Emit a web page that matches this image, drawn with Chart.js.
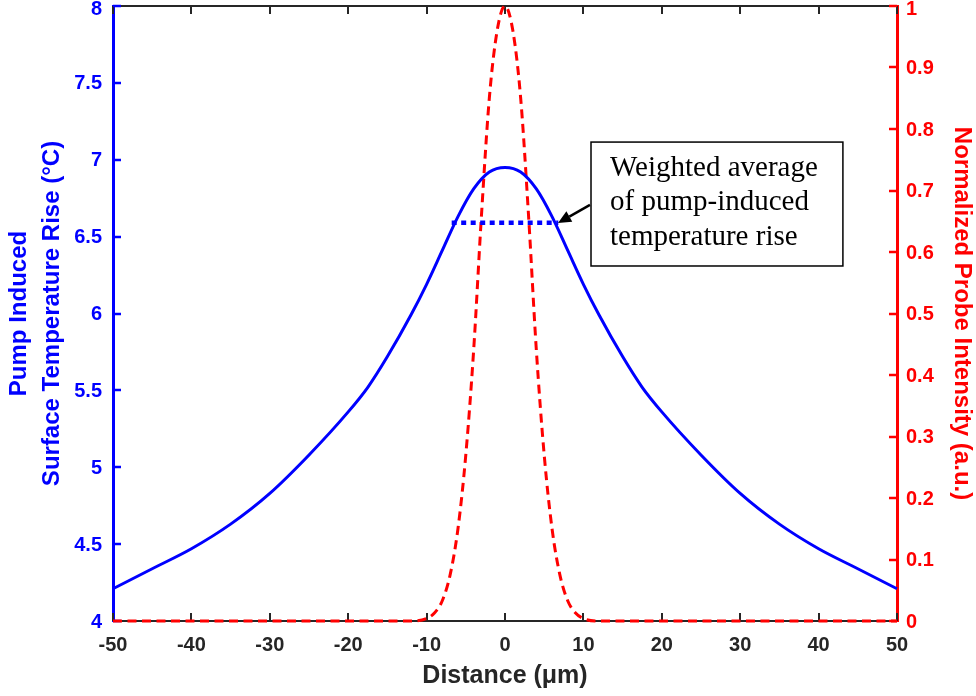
<!DOCTYPE html>
<html>
<head>
<meta charset="utf-8">
<script src="https://cdn.jsdelivr.net/npm/chart.js@4.4.1/dist/chart.umd.min.js"></script>
<style>
  html, body { margin: 0; padding: 0; background: #ffffff; }
  #wrap { width: 976px; height: 696px; position: relative; }
</style>
</head>
<body>
<div id="wrap"><canvas id="c"></canvas></div>
<script>
// ---- data ----
const distanceT = [-50,-45,-40,-35,-30,-25,-20,-17.5,-15,-12,-10,-8,-6,-4,-2,0,2,4,6,8,10,12,15,17.5,20,25,30,35,40,45,50];
const tempRise  = [4.21,4.34,4.47,4.63,4.83,5.08,5.36,5.52,5.72,5.99,6.19,6.41,6.63,6.81,6.92,6.95,6.92,6.81,6.63,6.41,6.19,5.99,5.72,5.52,5.36,5.08,4.83,4.63,4.47,4.34,4.21];

const distanceP = [-50,-12,-10,-9,-8,-7,-6,-5,-4,-3,-2,-1,0,1,2,3,4,5,6,7,8,9,10,12,50];
const probe     = [0,0,0.004,0.013,0.033,0.075,0.15,0.27,0.44,0.66,0.85,0.96,1,0.96,0.85,0.66,0.44,0.27,0.15,0.075,0.033,0.013,0.004,0,0];

const avgX = [-6.8, 6.8];
const avgT = [6.59, 6.59];

const xTicks = [-50,-40,-30,-20,-10,0,10,20,30,40,50];
const leftTicks = [4,4.5,5,5.5,6,6.5,7,7.5,8];
const rightTicks = [0,0.1,0.2,0.3,0.4,0.5,0.6,0.7,0.8,0.9,1];

const xTitle = 'Distance (μm)';
const leftTitle = ['Pump Induced', 'Surface Temperature Rise (°C)'];
const rightTitle = 'Normalized Probe Intensity (a.u.)';
const noteLines = ['Weighted average', 'of pump-induced', 'temperature rise'];

// annotation placement in data units (box and arrow)
const noteBox = { x0: 10.97, x1: 43.1, yTop: 7.115, yBot: 6.309 };
const noteArrow = { fromX: 10.84, fromY: 6.706, toX: 6.76, toY: 6.589 };

const BLUE = '#0000ff', RED = '#ff0000', DARK = '#262626';
const SANS = '"Liberation Sans", Arial, Helvetica, sans-serif';
const SERIF = '"Liberation Serif", "Times New Roman", serif';
const TICK_FONT = 'bold 20px ' + SANS;

const toXY = (xs, ys) => xs.map((x, i) => ({ x: x, y: ys[i] }));
const fmt = v => String(Math.round(v * 1000) / 1000);

const decoPlugin = {
  id: 'deco',
  beforeDatasetsDraw(chart) {
    const ctx = chart.ctx;
    const a = chart.chartArea;
    const xs = chart.scales.x, yl = chart.scales.y, yr = chart.scales.y2;
    const tl = 8;
    ctx.save();
    ctx.strokeStyle = DARK; ctx.lineWidth = 2;
    ctx.beginPath(); ctx.moveTo(a.left, a.top); ctx.lineTo(a.right, a.top); ctx.stroke();
    xTicks.forEach(v => {
      const px = Math.round(xs.getPixelForValue(v));
      ctx.beginPath();
      ctx.moveTo(px, a.bottom); ctx.lineTo(px, a.bottom - tl);
      ctx.moveTo(px, a.top); ctx.lineTo(px, a.top + tl);
      ctx.stroke();
    });
    ctx.strokeStyle = BLUE; ctx.lineWidth = 2.5;
    leftTicks.forEach(v => {
      const py = Math.round(yl.getPixelForValue(v));
      ctx.beginPath(); ctx.moveTo(a.left, py); ctx.lineTo(a.left + tl, py); ctx.stroke();
    });
    ctx.strokeStyle = RED;
    rightTicks.forEach(v => {
      const py = Math.round(yr.getPixelForValue(v));
      ctx.beginPath(); ctx.moveTo(a.right, py); ctx.lineTo(a.right - tl, py); ctx.stroke();
    });
    // y tick labels (kept inside the canvas at the top)
    ctx.font = TICK_FONT; ctx.textBaseline = 'middle';
    ctx.fillStyle = BLUE; ctx.textAlign = 'right';
    leftTicks.forEach(v => {
      const py = Math.max(yl.getPixelForValue(v) + 1, 9);
      ctx.fillText(fmt(v), a.left - 11, py);
    });
    ctx.fillStyle = RED; ctx.textAlign = 'left';
    rightTicks.forEach(v => {
      const py = Math.max(yr.getPixelForValue(v) + 1, 9);
      ctx.fillText(fmt(v), a.right + 9, py);
    });
    ctx.restore();
  },
  afterDatasetsDraw(chart) {
    const ctx = chart.ctx;
    const xs = chart.scales.x, yl = chart.scales.y;
    ctx.save();
    const bx0 = xs.getPixelForValue(noteBox.x0), bx1 = xs.getPixelForValue(noteBox.x1);
    const by0 = yl.getPixelForValue(noteBox.yTop), by1 = yl.getPixelForValue(noteBox.yBot);
    ctx.fillStyle = '#ffffff';
    ctx.fillRect(bx0, by0, bx1 - bx0, by1 - by0);
    ctx.strokeStyle = '#000000'; ctx.lineWidth = 1.5;
    ctx.strokeRect(bx0, by0, bx1 - bx0, by1 - by0);
    ctx.fillStyle = '#000000';
    ctx.font = '29px ' + SERIF;
    ctx.textAlign = 'left'; ctx.textBaseline = 'middle';
    const h = by1 - by0;
    noteLines.forEach((t, i) => {
      ctx.fillText(t, bx0 + 19, by0 + h * (0.21 + i * 0.28));
    });
    const ax0 = xs.getPixelForValue(noteArrow.fromX), ay0 = yl.getPixelForValue(noteArrow.fromY);
    const ax1 = xs.getPixelForValue(noteArrow.toX), ay1 = yl.getPixelForValue(noteArrow.toY);
    const ang = Math.atan2(ay1 - ay0, ax1 - ax0);
    const hl = 13, hw = 6;
    const bxp = ax1 - hl * Math.cos(ang), byp = ay1 - hl * Math.sin(ang);
    ctx.strokeStyle = '#000000'; ctx.lineWidth = 2.5;
    ctx.beginPath(); ctx.moveTo(ax0, ay0); ctx.lineTo(bxp, byp); ctx.stroke();
    ctx.beginPath();
    ctx.moveTo(ax1, ay1);
    ctx.lineTo(bxp + hw * Math.sin(ang), byp - hw * Math.cos(ang));
    ctx.lineTo(bxp - hw * Math.sin(ang), byp + hw * Math.cos(ang));
    ctx.closePath(); ctx.fill();
    ctx.restore();
  }
};

const zeroPadY = s => { s.paddingTop = 0; s.paddingBottom = 0; };

new Chart(document.getElementById('c'), {
  type: 'line',
  data: {
    datasets: [
      {
        data: toXY(distanceT, tempRise), yAxisID: 'y',
        borderColor: BLUE, borderWidth: 3, pointRadius: 0,
        cubicInterpolationMode: 'monotone', clip: 6
      },
      {
        data: toXY(avgX, avgT), yAxisID: 'y',
        borderColor: BLUE, borderWidth: 4.5, pointRadius: 0,
        borderDash: [5, 4.5], borderCapStyle: 'butt', clip: 6
      },
      {
        data: toXY(distanceP, probe), yAxisID: 'y2',
        borderColor: RED, borderWidth: 3, pointRadius: 0,
        borderDash: [9, 5.5], cubicInterpolationMode: 'monotone', clip: 6
      }
    ]
  },
  options: {
    responsive: true, maintainAspectRatio: false, animation: false,
    layout: { padding: { top: 6, left: 0, right: 0, bottom: 0 } },
    plugins: { legend: { display: false }, tooltip: { enabled: false } },
    scales: {
      x: {
        type: 'linear', min: -50, max: 50, position: 'bottom',
        afterBuildTicks: s => { s.ticks = xTicks.map(v => ({ value: v })); },
        afterFit: s => { s.height = 75; s.paddingLeft = 0; s.paddingRight = 0; },
        grid: { display: false, drawTicks: false },
        border: { display: true, color: DARK, width: 2 },
        ticks: { color: DARK, padding: 12, font: { family: SANS, size: 20, weight: 'bold' }, callback: fmt, maxRotation: 0, autoSkip: false },
        title: { display: true, text: xTitle, color: DARK, padding: { top: 0, bottom: 5 }, font: { family: SANS, size: 25, weight: 'bold', lineHeight: 1.2 } }
      },
      y: {
        type: 'linear', min: 4, max: 8, position: 'left',
        afterBuildTicks: s => { s.ticks = leftTicks.map(v => ({ value: v })); },
        afterFit: s => { s.width = 113; zeroPadY(s); },
        grid: { display: false, drawTicks: false },
        border: { display: true, color: BLUE, width: 3 },
        ticks: { display: false },
        title: { display: true, text: leftTitle, color: BLUE, padding: { top: 3, bottom: 0 }, font: { family: SANS, size: 24, weight: 'bold', lineHeight: 1.375 } }
      },
      y2: {
        type: 'linear', min: 0, max: 1, position: 'right',
        afterBuildTicks: s => { s.ticks = rightTicks.map(v => ({ value: v })); },
        afterFit: s => { s.width = 79; zeroPadY(s); },
        grid: { display: false, drawTicks: false },
        border: { display: true, color: RED, width: 3 },
        ticks: { display: false },
        title: { display: true, text: rightTitle, color: RED, padding: { top: 0, bottom: 0 }, font: { family: SANS, size: 24, weight: 'bold', lineHeight: 1.2 } }
      }
    }
  },
  plugins: [decoPlugin]
});
</script>
</body>
</html>
